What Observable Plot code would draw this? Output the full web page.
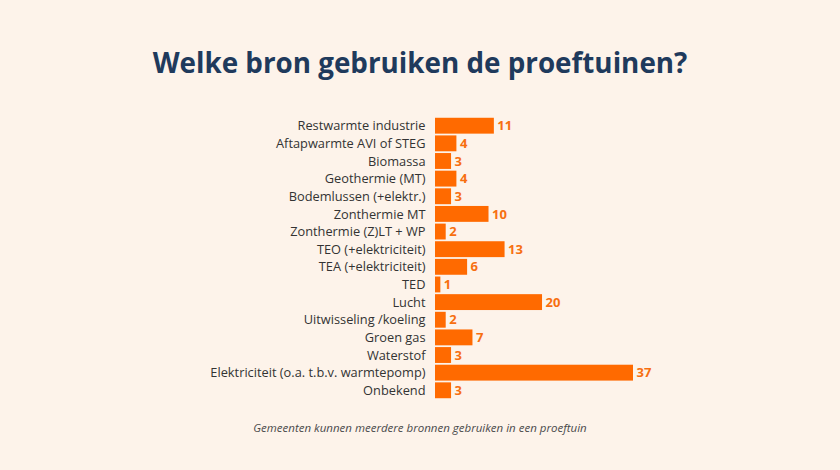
<!DOCTYPE html>
<html>
<head>
<meta charset="utf-8">
<script src="https://cdn.jsdelivr.net/npm/d3@7"></script>
<script src="https://cdn.jsdelivr.net/npm/@observablehq/plot@0.6"></script>
<style>
  html, body { margin: 0; padding: 0; background: #fdf3ea; }
  #wrap { width: 840px; height: 470px; position: relative; background: #fdf3ea; font-family: "Open Sans", sans-serif; overflow: hidden; }
  #title { position: absolute; top: 43px; left: 0; width: 840px; text-align: center; font-size: 27.8px; font-weight: 700; color: #1f3a5c; }
  #chart { position: absolute; top: 110px; left: 0; }
  #caption { position: absolute; top: 420px; left: 0; width: 840px; text-align: center; font-size: 11.5px; font-style: italic; color: #4a4a4a; }
</style>
</head>
<body>
<div id="wrap">
  <div id="title">Welke bron gebruiken de proeftuinen?</div>
  <div id="chart"></div>
  <div id="caption">Gemeenten kunnen meerdere bronnen gebruiken in een proeftuin</div>
</div>
<script>
const categories = [
  "Restwarmte industrie",
  "Aftapwarmte AVI of STEG",
  "Biomassa",
  "Geothermie (MT)",
  "Bodemlussen (+elektr.)",
  "Zonthermie MT",
  "Zonthermie (Z)LT + WP",
  "TEO (+elektriciteit)",
  "TEA (+elektriciteit)",
  "TED",
  "Lucht",
  "Uitwisseling /koeling",
  "Groen gas",
  "Waterstof",
  "Elektriciteit (o.a. t.b.v. warmtepomp)",
  "Onbekend"
];
const values = [11, 4, 3, 4, 3, 10, 2, 13, 6, 1, 20, 2, 7, 3, 37, 3];

const data = categories.map((c, i) => ({bron: c, n: values[i]}));
const orange = "#ff6a00";

const chart = Plot.plot({
  width: 840,
  height: 300,
  marginLeft: 435,
  marginRight: 207,
  marginTop: 6,
  marginBottom: 10,
  style: {background: "transparent", fontFamily: "'Open Sans', sans-serif"},
  x: {domain: [0, 37], axis: null},
  y: {domain: categories, padding: 0.1, round: false, label: null},
  marks: [
    Plot.axisY({tickSize: 0, tickPadding: 10, fontSize: 12.8, color: "#333", label: null}),
    Plot.barX(data, {x: "n", y: "bron", fill: orange}),
    Plot.text(data, {x: "n", y: "bron", text: d => String(d.n), dx: 3, textAnchor: "start", fill: "#f76f10", fontWeight: 700, fontSize: 13})
  ]
});
document.getElementById("chart").appendChild(chart);
</script>
</body>
</html>
